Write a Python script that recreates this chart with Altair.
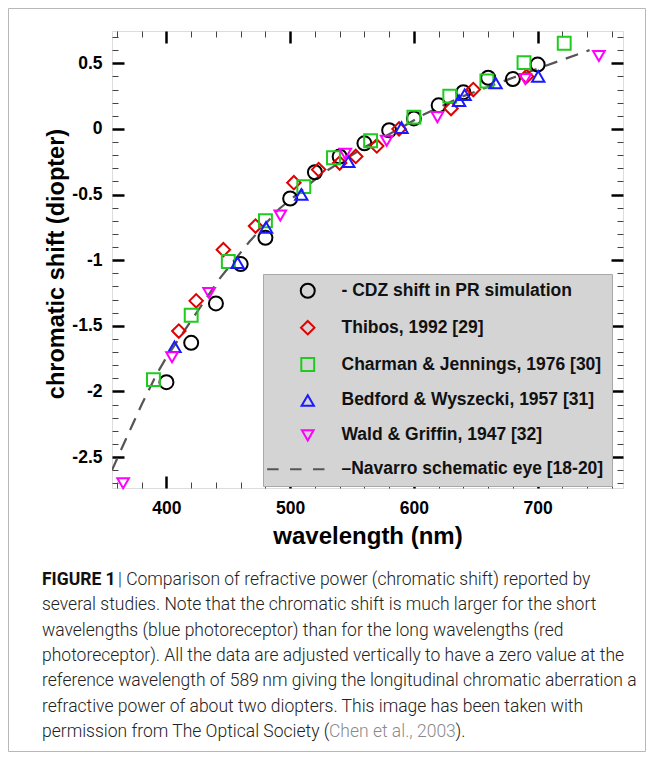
import altair as alt
import pandas as pd

# ---------------- data ----------------
series_names = [
    "- CDZ shift in PR simulation",
    "Thibos, 1992 [29]",
    "Charman & Jennings, 1976 [30]",
    "Bedford & Wyszecki, 1957 [31]",
    "Wald & Griffin, 1947 [32]",
    "\u2013Navarro schematic eye [18-20]",
]

cdz_wl = [400, 420, 440, 460, 480, 500, 520, 540, 560, 580, 600, 620, 640, 660, 680, 700]
cdz_shift = [-1.93, -1.63, -1.33, -1.03, -0.83, -0.53, -0.33, -0.21, -0.11, -0.01,
             0.08, 0.18, 0.28, 0.39, 0.38, 0.49]

thibos_wl = [410, 424, 446, 472, 503, 523, 540, 553, 570, 588, 630, 648, 691]
thibos_shift = [-1.54, -1.31, -0.92, -0.74, -0.41, -0.31, -0.26, -0.21, -0.13, 0.0,
                0.155, 0.30, 0.40]

charman_wl = [389.5, 420, 450, 480, 511, 535, 565, 600, 629, 659, 689, 721.5]
charman_shift = [-1.91, -1.42, -1.01, -0.70, -0.44, -0.22, -0.09, 0.09, 0.25, 0.365,
                 0.505, 0.653]

bedford_wl = [406.5, 457.5, 480.5, 509, 547, 590, 636.5, 641, 666, 700.5]
bedford_shift = [-1.66, -1.02, -0.75, -0.50, -0.25, 0.01, 0.215, 0.26, 0.35, 0.40]

wald_wl = [365, 404.5, 434.5, 492, 544.5, 578, 619, 690, 749.5]
wald_shift = [-2.70, -1.74, -1.25, -0.66, -0.19, -0.09, 0.09, 0.38, 0.556]

navarro_wl = [356, 365, 380, 392, 400, 420, 443, 467, 491, 526, 560, 590, 608, 640,
              680, 718, 742]
navarro_shift = [-2.60, -2.41, -2.10, -1.87, -1.74, -1.46, -1.14, -0.86, -0.61, -0.34,
                 -0.14, 0.01, 0.11, 0.25, 0.39, 0.52, 0.60]

x_major = [400, 500, 600, 700]
x_minor = [360, 380, 420, 440, 460, 480, 520, 540, 560, 580, 620, 640, 660, 680,
           720, 740, 760]
y_major = [-2.5, -2, -1.5, -1, -0.5, 0, 0.5]
y_minor = [-2.7, -2.6, -2.4, -2.3, -2.2, -2.1, -1.9, -1.8, -1.7, -1.6, -1.4, -1.3,
           -1.2, -1.1, -0.9, -0.8, -0.7, -0.6, -0.4, -0.3, -0.2, -0.1, 0.1, 0.2,
           0.3, 0.4, 0.6, 0.7]

caption_bold = "FIGURE 1"
caption_first = "| Comparison of refractive power (chromatic shift) reported by"
caption_lines = [
    "several studies. Note that the chromatic shift is much larger for the short",
    "wavelengths (blue photoreceptor) than for the long wavelengths (red",
    "photoreceptor). All the data are adjusted vertically to have a zero value at the",
    "reference wavelength of 589\u2009nm giving the longitudinal chromatic aberration a",
    "refractive power of about two diopters. This image has been taken with",
]
caption_last = ["permission from The Optical Society (", "Chen et al., 2003", ")."]

# ---------------- tables ----------------
frames = []
for name, wl, sh in zip(series_names[:5],
                        [cdz_wl, thibos_wl, charman_wl, bedford_wl, wald_wl],
                        [cdz_shift, thibos_shift, charman_shift, bedford_shift, wald_shift]):
    frames.append(pd.DataFrame({"wl": wl, "shift": sh, "series": name}))
pts = pd.concat(frames, ignore_index=True)
nav = pd.DataFrame({"wl": navarro_wl, "shift": navarro_shift})
one = pd.DataFrame({"k": [0]})

# ---------------- style ----------------
W, H = 511, 457
FONT = "Liberation Sans"
xs = alt.Scale(domain=[356, 769], nice=False, zero=False)
ys = alt.Scale(domain=[-2.736, 0.746], nice=False, zero=False)

colors = ["#000000", "#e00000", "#1ecb1e", "#1a1aff", "#ff00ff", "#555555"]
dash_path = "M-7.38,0L-5.3,0M-3.21,0L-1.13,0M0.95,0L3.04,0"
shapes = ["circle", "diamond", "square", "triangle-up", "triangle-down", dash_path]
sizes = [196, 121, 72, 100, 100, 196]


def tick_axis(orient, values, size, width, color="black", **kw):
    base = dict(orient=orient, values=values, tickSize=size, offset=-size,
                tickWidth=width, tickColor=color, domain=False, grid=False,
                labels=False, title=None)
    base.update(kw)
    return alt.Axis(**base)


axis_bottom = tick_axis("bottom", x_major, 12, 2.5, labels=True,
                        labelFont=FONT, labelFontSize=17.5, labelFontWeight="bold",
                        labelColor="black", labelPadding=11,
                        title="wavelength (nm)", titleFont=FONT, titleFontSize=24,
                        titleFontWeight="bold", titleColor="black", titlePadding=8)
axis_left = tick_axis("left", y_major, 12, 2.5, labels=True,
                      labelFont=FONT, labelFontSize=17.5, labelFontWeight="bold",
                      labelColor="black", labelPadding=10,
                      labelExpr="datum.value + ''",
                      title="chromatic shift (diopter)", titleFont=FONT,
                      titleFontSize=23.5, titleFontWeight="bold", titleColor="black",
                      titleAngle=270, titleBaseline="bottom", titleAlign="center",
                      titleX=-56, titleY=232.5)
axis_top = tick_axis("top", x_major, 12, 2.5)
axis_right = tick_axis("right", y_major, 12, 2.5)
minor_bottom = tick_axis("bottom", x_minor, 6, 1, "#444444")
minor_top = tick_axis("top", x_minor, 6, 1, "#444444")
minor_left = tick_axis("left", y_minor, 6, 1, "#444444")
minor_right = tick_axis("right", y_minor, 6, 1, "#444444")

legend = alt.Legend(orient="none", legendX=151, legendY=243, title=None,
                    fillColor="#d4d4d4", strokeColor="#a8a8a8", padding=8,
                    labelFont=FONT, labelFontSize=17.5, labelFontWeight="bold",
                    labelColor="#111111", symbolOffset=28, labelOffset=25,
                    symbolStrokeWidth=2, rowPadding=14.9, labelLimit=400)

points = alt.Chart(pts).mark_point(filled=False, strokeWidth=2, opacity=1).encode(
    x=alt.X("wl:Q", scale=xs, axis=axis_bottom),
    y=alt.Y("shift:Q", scale=ys, axis=axis_left),
    color=alt.Color("series:N", scale=alt.Scale(domain=series_names, range=colors),
                    legend=legend),
    shape=alt.Shape("series:N", scale=alt.Scale(domain=series_names, range=shapes),
                    legend=legend),
    size=alt.Size("series:N", scale=alt.Scale(domain=series_names, range=sizes),
                  legend=legend),
)

line = alt.Chart(nav).mark_line(color="#555555", strokeWidth=2.2,
                                strokeDash=[13, 9], clip=True).encode(
    x=alt.X("wl:Q", scale=xs, axis=axis_top),
    y=alt.Y("shift:Q", scale=ys, axis=axis_right),
)

minor_a = alt.Chart(nav).mark_point(opacity=0).encode(
    x=alt.X("wl:Q", scale=xs, axis=minor_bottom),
    y=alt.Y("shift:Q", scale=ys, axis=minor_left),
)
minor_b = alt.Chart(nav).mark_point(opacity=0).encode(
    x=alt.X("wl:Q", scale=xs, axis=minor_top),
    y=alt.Y("shift:Q", scale=ys, axis=minor_right),
)

frame = alt.Chart(one).mark_rect(fillOpacity=0, stroke="#b8b8b8", strokeWidth=1).encode(
    x=alt.value(-103.5), x2=alt.value(533.5), y=alt.value(-22.5), y2=alt.value(720.5)
)

CAP_X = -70
CAP_Y0 = 554
PITCH = 25.3


def cap(text, x, y, **kw):
    style = dict(align="left", baseline="alphabetic", font="Roboto", fontSize=17.5,
                 fontWeight=300, color="#222222")
    style.update(kw)
    return alt.Chart(one).mark_text(text=text, **style).encode(
        x=alt.value(x), y=alt.value(y))


caps = [
    cap(caption_bold, CAP_X, CAP_Y0, fontWeight="bold", color="#111111"),
    cap(caption_first, CAP_X + 76, CAP_Y0),
]
for i, t in enumerate(caption_lines):
    caps.append(cap(t, CAP_X, CAP_Y0 + PITCH * (i + 1)))
yl = CAP_Y0 + PITCH * 6
caps.append(cap(caption_last[0], CAP_X, yl))
caps.append(cap(caption_last[1], CAP_X + 287, yl, color="#8a8a8a"))
caps.append(cap(caption_last[2], CAP_X + 413.5, yl))

chart = alt.layer(frame, minor_a, minor_b, line, points, *caps).resolve_axis(
    x="independent", y="independent"
).properties(
    width=W, height=H,
    autosize=alt.AutoSizeParams(type="none"),
    padding={"left": 104, "top": 23, "right": 23, "bottom": 264},
).configure_view(stroke="black", strokeWidth=2.5).configure(background="white")

chart.save("out.html", embed_options={"renderer": "svg", "actions": False})
